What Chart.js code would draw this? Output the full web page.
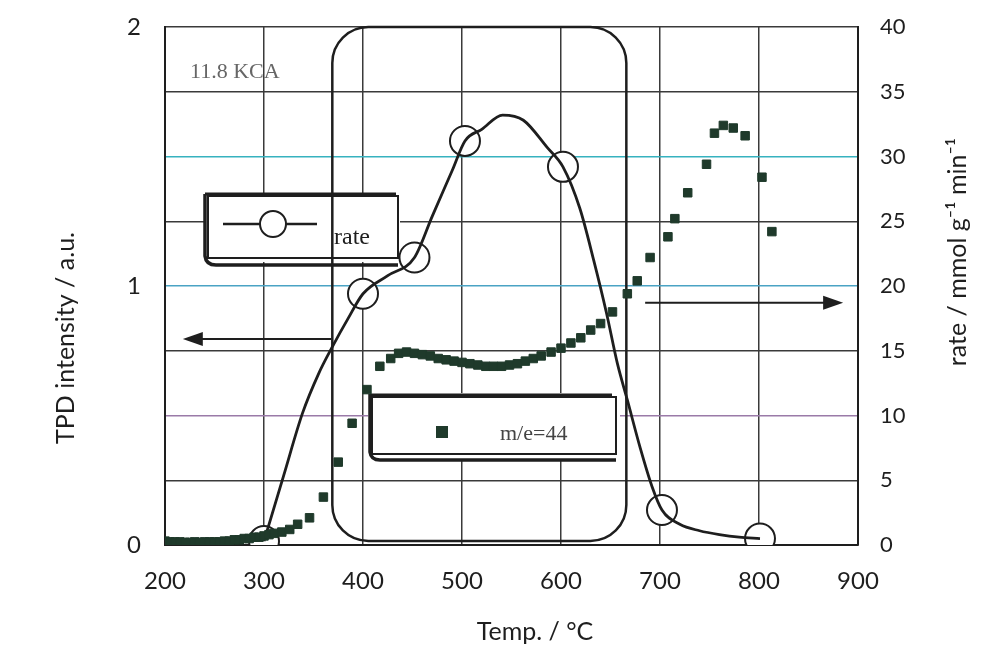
<!DOCTYPE html>
<html>
<head>
<meta charset="utf-8">
<script src="https://cdn.jsdelivr.net/npm/chart.js@4"></script>
<style>
  html, body { margin: 0; padding: 0; background: #fff; }
  #wrap { width: 995px; height: 657px; }
</style>
</head>
<body>
<div id="wrap"><canvas id="myChart" width="995" height="657"></canvas></div>
<script>
// TPD m/e=44 signal (left axis, a.u.)
const tpdTemp = [200, 205, 210, 215, 220, 225, 230, 235, 240, 245, 250, 255, 260, 265, 270, 275, 280, 285, 290, 295,
  300, 305, 310, 318, 326, 334, 346, 360, 375, 389, 404, 417, 428, 436, 444, 452, 460, 468, 476, 484, 492, 500,
  508, 516, 524, 532, 540, 548, 556, 564, 572, 580, 590, 600, 610, 620, 630, 640, 652, 667, 677, 690, 708, 715,
  728, 747, 755, 764, 774, 786, 803, 813];
const tpdValue = [0.015, 0.012, 0.012, 0.012, 0.01, 0.01, 0.012, 0.01, 0.012, 0.012, 0.012, 0.012, 0.015, 0.015, 0.02, 0.02, 0.025, 0.025, 0.03, 0.03,
  0.035, 0.04, 0.045, 0.05, 0.06, 0.08, 0.105, 0.185, 0.32, 0.47, 0.6, 0.69, 0.72, 0.74, 0.745, 0.74, 0.735, 0.73, 0.72, 0.715, 0.71, 0.705,
  0.7, 0.695, 0.69, 0.69, 0.69, 0.695, 0.7, 0.71, 0.72, 0.73, 0.745, 0.76, 0.78, 0.8, 0.83, 0.855, 0.9, 0.97, 1.02, 1.11, 1.19, 1.26,
  1.36, 1.47, 1.59, 1.62, 1.61, 1.58, 1.42, 1.21];

// rate curve (right axis, mmol g-1 min-1)
const rateTemp = [300, 320, 339, 355, 369, 385, 400, 425, 452, 470, 490, 503, 520, 541, 562, 586, 602, 619, 633, 646, 657, 667, 680, 692, 702, 720, 740, 760, 780, 801];
const rateValue = [0.3, 5.4, 10.2, 13.2, 15.3, 17.5, 19.4, 20.8, 22.2, 25.4, 28.9, 31.2, 32.1, 33.2, 32.8, 30.7, 29.2, 26.0, 22.0, 17.9, 14.0, 11.2, 7.5, 4.5, 2.7, 1.6, 1.1, 0.8, 0.6, 0.5];

// measured rate points (open circles)
const markTemp = [300, 400, 452, 503, 602, 702, 801];
const markValue = [0.3, 19.4, 22.2, 31.2, 29.2, 2.7, 0.5];

const xTicks = [200, 300, 400, 500, 600, 700, 800, 900];
const leftTicks = [0, 1, 2];
const rightTicks = [0, 5, 10, 15, 20, 25, 30, 35, 40];

const ink = '#1e1e1e';
const dotColor = '#1f3a2b';
const sans = 'Lato, "Open Sans", sans-serif';
const serif = '"Liberation Serif", "DejaVu Serif", serif';

function arrow(c, x1, y, x2) {
  const dir = x2 > x1 ? 1 : -1;
  c.beginPath();
  c.moveTo(x1, y);
  c.lineTo(x2 - dir * 16, y);
  c.stroke();
  c.beginPath();
  c.moveTo(x2, y);
  c.lineTo(x2 - dir * 20, y - 7);
  c.lineTo(x2 - dir * 20, y + 7);
  c.closePath();
  c.fill();
}

const annotations = {
  id: 'annotations',
  beforeDatasetsDraw(chart) {
    const c = chart.ctx;
    const x = chart.scales.x, yl = chart.scales.yL;
    const a = chart.chartArea;
    c.save();
    c.strokeStyle = ink;
    c.fillStyle = ink;

    // legend box: rate
    c.fillStyle = '#fff';
    c.fillRect(206, 194, 194, 68);
    c.lineWidth = 2;
    c.strokeRect(208, 196, 190, 62);
    c.lineWidth = 3.5;
    c.beginPath();
    c.moveTo(205, 194);
    c.lineTo(205, 256);
    c.quadraticCurveTo(206, 265, 216, 265);
    c.lineTo(398, 265);
    c.stroke();
    c.lineWidth = 3;
    c.beginPath();
    c.moveTo(205, 194);
    c.lineTo(396, 194);
    c.stroke();

    // legend box: m/e=44
    c.fillStyle = '#fff';
    c.fillRect(368, 393, 252, 67);
    c.lineWidth = 2;
    c.strokeRect(372, 397, 244, 57);
    c.lineWidth = 3.5;
    c.beginPath();
    c.moveTo(370, 394);
    c.lineTo(370, 452);
    c.quadraticCurveTo(371, 460, 380, 460);
    c.lineTo(616, 460);
    c.stroke();
    c.lineWidth = 3;
    c.beginPath();
    c.moveTo(370, 395);
    c.lineTo(612, 395);
    c.stroke();

    // rounded region
    const rx1 = x.getPixelForValue(369), rx2 = x.getPixelForValue(666);
    c.lineWidth = 2.5;
    c.beginPath();
    c.roundRect(rx1, a.top, rx2 - rx1, a.bottom - a.top - 4, 36);
    c.stroke();

    // arrows
    c.fillStyle = ink;
    c.lineWidth = 2;
    arrow(c, x.getPixelForValue(368), yl.getPixelForValue(0.795), x.getPixelForValue(218));
    arrow(c, x.getPixelForValue(685), chart.scales.yR.getPixelForValue(18.7), x.getPixelForValue(885));

    // legend symbols and labels
    c.lineWidth = 2.5;
    c.beginPath();
    c.moveTo(223, 224);
    c.lineTo(317, 224);
    c.stroke();
    c.fillStyle = '#fff';
    c.beginPath();
    c.arc(273, 224, 13, 0, Math.PI * 2);
    c.fill();
    c.lineWidth = 2;
    c.stroke();
    c.fillStyle = ink;
    c.font = '24px ' + serif;
    c.textBaseline = 'middle';
    c.fillText('rate', 334, 238);
    c.fillStyle = dotColor;
    c.fillRect(436, 426, 12, 12);
    c.fillStyle = '#444';
    c.font = '22px ' + serif;
    c.fillText('m/e=44', 500, 434);
    c.fillStyle = '#666';
    c.fillText('11.8 KCA', 190, 72);

    // axis titles
    c.fillStyle = ink;
    c.font = '25px ' + sans;
    c.textAlign = 'center';
    c.fillText('Temp. / °C', 535, 632);
    c.save();
    c.translate(66, 338);
    c.rotate(-Math.PI / 2);
    c.fillText('TPD intensity / a.u.', 0, 0);
    c.restore();
    c.save();
    c.translate(958, 252);
    c.rotate(-Math.PI / 2);
    c.fillText('rate / mmol g⁻¹ min⁻¹', 0, 0);
    c.restore();
    c.restore();
  }
};

const gridColor = (v) => {
  if (v === 30) return '#36b2bf';
  if (v === 20) return '#4aa3c4';
  if (v === 10) return '#9a7aa8';
  return '#3a3a3a';
};

// fixed side widths; drop the label overhang so the plot top sits at the layout padding
const fitY = (w) => (s) => { s.width = w; s.paddingTop = 0; s.paddingBottom = 0; };

const chart = new Chart(document.getElementById('myChart'), {
  type: 'scatter',
  data: {
    datasets: [
      {
        label: 'm/e=44',
        data: tpdTemp.map((t, i) => ({ x: t, y: tpdValue[i] })),
        yAxisID: 'yL',
        pointStyle: 'rect',
        pointRadius: 6,
        backgroundColor: dotColor,
        borderColor: dotColor,
        borderWidth: 1,
      },
      {
        label: 'rate curve',
        data: rateTemp.map((t, i) => ({ x: t, y: rateValue[i] })),
        yAxisID: 'yR',
        showLine: true,
        pointRadius: 0,
        borderColor: ink,
        borderWidth: 2.8,
        cubicInterpolationMode: 'monotone',
      },
      {
        label: 'rate',
        data: markTemp.map((t, i) => ({ x: t, y: markValue[i] })),
        yAxisID: 'yR',
        pointRadius: 15,
        pointBackgroundColor: '#fff',
        pointBorderColor: ink,
        pointBorderWidth: 2,
      },
    ],
  },
  options: {
    responsive: false,
    animation: false,
    layout: { padding: { top: 27 } },
    plugins: {
      legend: { display: false },
      tooltip: { enabled: false },
    },
    scales: {
      x: {
        type: 'linear',
        min: 200,
        max: 900,
        afterBuildTicks: (s) => { s.ticks = xTicks.map((v) => ({ value: v })); },
        afterFit: (s) => { s.height = 112; },
        ticks: { font: { family: sans, size: 24 }, color: ink, padding: 22 },
        grid: { color: '#3a3a3a', lineWidth: 1.5, drawTicks: false },
        border: { color: ink, width: 2 },
      },
      yL: {
        position: 'left',
        min: 0,
        max: 2,
        afterBuildTicks: (s) => { s.ticks = leftTicks.map((v) => ({ value: v })); },
        afterFit: fitY(165),
        ticks: { font: { family: sans, size: 24 }, color: ink, padding: 24 },
        grid: { display: false, drawTicks: false },
        border: { color: ink, width: 2 },
      },
      yR: {
        position: 'right',
        min: 0,
        max: 40,
        afterBuildTicks: (s) => { s.ticks = rightTicks.map((v) => ({ value: v })); },
        afterFit: fitY(137),
        ticks: { font: { family: sans, size: 22 }, color: ink, padding: 22 },
        grid: { color: (ctx) => gridColor(ctx.tick && ctx.tick.value), lineWidth: 1.5, drawTicks: false },
        border: { color: ink, width: 2 },
      },
    },
  },
  plugins: [annotations],
});
</script>
</body>
</html>
